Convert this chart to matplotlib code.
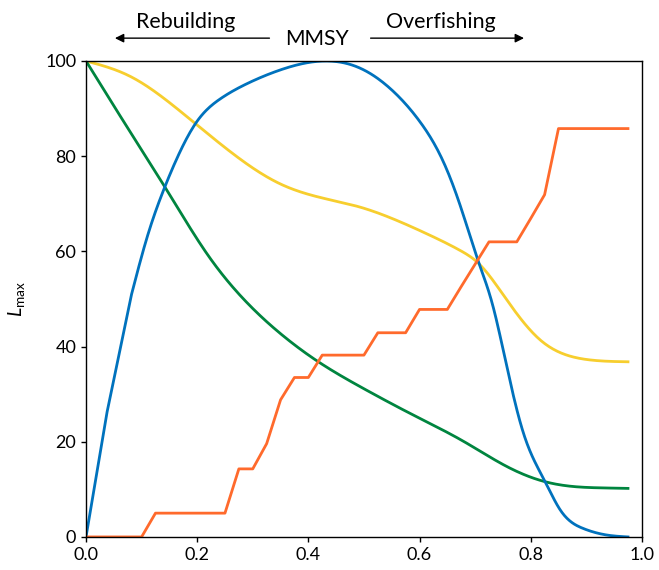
import numpy as np
import matplotlib
matplotlib.use("Agg")
import matplotlib.pyplot as plt

plt.rcParams['font.family'] = ['Lato', 'DejaVu Sans']
plt.rcParams['mathtext.fontset'] = 'custom'
plt.rcParams['mathtext.rm'] = 'Lato'
plt.rcParams['mathtext.it'] = 'Lato:italic'

# orange step series (grid of 0.025)
x_orange = np.round(np.arange(0, 0.976, 0.025), 3)
y_orange = [0, 0, 0, 0, 0, 5, 5, 5, 5, 5, 5, 14.3, 14.3, 19.6, 28.8, 33.5, 33.5,
            38.2, 38.2, 38.2, 38.2, 42.9, 42.9, 42.9, 47.8, 47.8, 47.8, 52.6, 57.3,
            62.0, 62.0, 62.0, 66.9, 71.9, 85.8, 85.8, 85.8, 85.8, 85.8, 85.8]

# blue (yield-like) curve
x_blue = [0, 0.038, 0.082, 0.11, 0.142, 0.169, 0.199, 0.241, 0.289, 0.349,
          0.43, 0.493, 0.553, 0.601, 0.643, 0.673, 0.707, 0.73, 0.757,
          0.787, 0.826, 0.853, 0.894, 0.937, 0.975]
y_blue = [0, 26.3, 51.0, 63.0, 73.6, 80.9, 87.2, 92.0, 95.2, 98.1,
          100, 98.5, 93.6, 87.2, 78.8, 69.7, 57.5, 49.4, 35.8,
          21.8, 11.6, 5.7, 1.8, 0.4, 0]

# green curve
x_green = [0, 0.08, 0.15, 0.217, 0.289, 0.349, 0.418, 0.499, 0.589,
           0.679, 0.757, 0.826, 0.876, 0.93, 0.975]
y_green = [100, 85.0, 72.0, 59.6, 49.3, 42.8, 36.8, 31.2, 25.6,
           20.1, 14.8, 11.6, 10.6, 10.3, 10.2]

# yellow curve
x_yellow = [0, 0.079, 0.169, 0.259, 0.349, 0.433, 0.493, 0.553, 0.613,
            0.673, 0.706, 0.757, 0.817, 0.865, 0.906, 0.975]
y_yellow = [100, 96.8, 89.5, 81.0, 74.2, 71.0, 69.3, 66.8, 63.7,
            60.2, 57.5, 49.8, 41.4, 38.2, 37.2, 36.8]

y_ticks = [0, 20, 40, 60, 80, 100]
x_ticks = [0.0, 0.2, 0.4, 0.6, 0.8, 1.0]


def spline(x, y, n=400):
    # natural cubic spline through the read points
    x = np.asarray(x, float)
    y = np.asarray(y, float)
    k = len(x)
    h = np.diff(x)
    A = np.zeros((k, k))
    r = np.zeros(k)
    A[0, 0] = A[-1, -1] = 1
    for i in range(1, k - 1):
        A[i, i - 1] = h[i - 1]
        A[i, i] = 2 * (h[i - 1] + h[i])
        A[i, i + 1] = h[i]
        r[i] = 6 * ((y[i + 1] - y[i]) / h[i] - (y[i] - y[i - 1]) / h[i - 1])
    M = np.linalg.solve(A, r)
    xs = np.linspace(x[0], x[-1], n)
    j = np.clip(np.searchsorted(x, xs) - 1, 0, k - 2)
    a = x[j + 1] - xs
    b = xs - x[j]
    hj = h[j]
    ys = (M[j] * a**3 + M[j + 1] * b**3) / (6 * hj) \
        + (y[j] / hj - M[j] * hj / 6) * a + (y[j + 1] / hj - M[j + 1] * hj / 6) * b
    return xs, ys


fig = plt.figure(figsize=(6.59, 5.70), dpi=100)
ax = fig.add_axes([0.1305, 0.058, 0.8435, 0.835])

lw = 2.0
ax.plot(*spline(x_yellow, y_yellow), color='#F7CE2E', lw=lw)
ax.plot(*spline(x_green, y_green), color='#00853F', lw=lw)
# blue: straight segments at start, smooth after
xb, yb = spline(x_blue[2:], y_blue[2:])
ax.plot(np.r_[x_blue[:2], xb], np.r_[y_blue[:2], np.clip(yb, 0, None)], color='#0072BD', lw=lw)
ax.plot(x_orange, y_orange, color='#FF6A2C', lw=lw)

ax.set_xlim(0, 1.0)
ax.set_ylim(0, 100)
ax.set_xticks(x_ticks)
ax.set_xticklabels([f"{v:.1f}" for v in x_ticks])
ax.set_yticks(y_ticks)
ax.tick_params(labelsize=13, length=3.5, width=1, direction='out')
for s in ax.spines.values():
    s.set_linewidth(1)
ax.set_ylabel(r'$L_{\mathrm{max}}$', fontsize=14, labelpad=13)

# annotations above the axes
ax.annotate('', xy=(0.047, 104.8), xytext=(0.335, 104.8), annotation_clip=False,
            arrowprops=dict(arrowstyle='-|>', color='black', lw=1, mutation_scale=13))
ax.annotate('', xy=(0.793, 104.8), xytext=(0.507, 104.8), annotation_clip=False,
            arrowprops=dict(arrowstyle='-|>', color='black', lw=1, mutation_scale=13))
ax.text(0.416, 103.4, 'MMSY', ha='center', va='baseline', fontsize=15.2, clip_on=False)
ax.text(0.18, 106.9, 'Rebuilding', ha='center', va='baseline', fontsize=15.4, clip_on=False)
ax.text(0.638, 106.9, 'Overfishing', ha='center', va='baseline', fontsize=15.4, clip_on=False)

fig.savefig('out.png', dpi=100)
